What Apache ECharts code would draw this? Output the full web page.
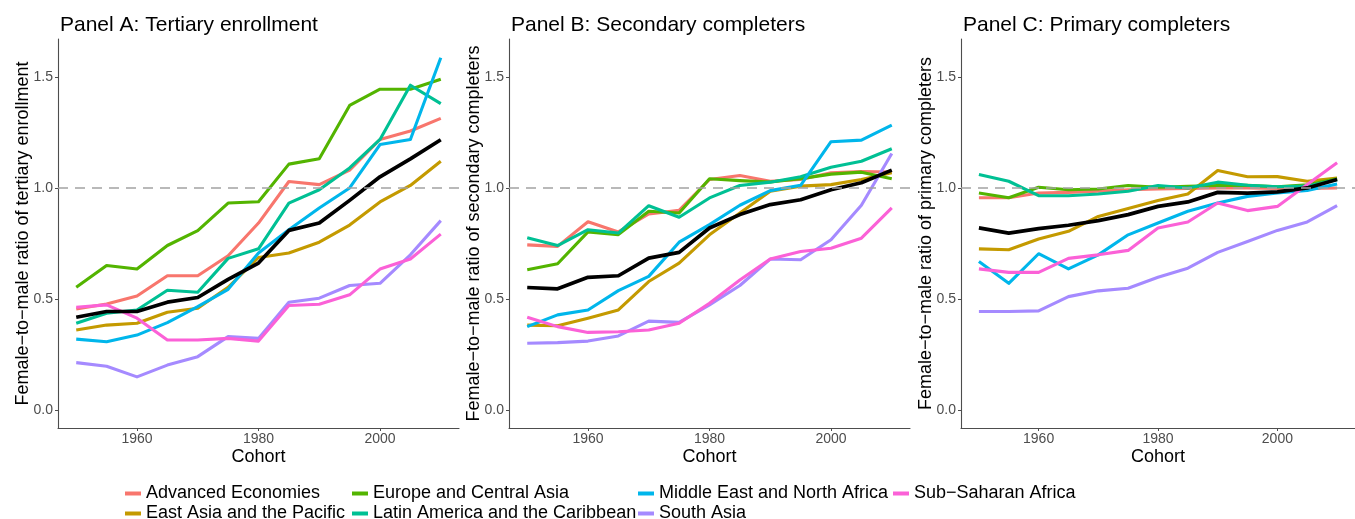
<!DOCTYPE html>
<html>
<head>
<meta charset="utf-8">
<script src="https://cdn.jsdelivr.net/npm/echarts@6/dist/echarts.min.js"></script>
<style>
html,body{margin:0;padding:0;background:#fff;}
#c{width:1355px;height:519px;}
</style>
</head>
<body>
<div id="c"></div>
<script>
// ---- data ----
const cohorts = [1950,1955,1960,1965,1970,1975,1980,1985,1990,1995,2000,2005,2010];
const regionNames = ["Advanced Economies","East Asia and the Pacific","Europe and Central Asia","Latin America and the Caribbean","Middle East and North Africa","South Asia","Sub\u2212Saharan Africa"];
const regionColors = ["#F8766D","#C49A00","#53B400","#00C094","#00B6EB","#A58AFF","#FB61D7"];
const panelTitles = ["Panel A: Tertiary enrollment","Panel B: Secondary completers","Panel C: Primary completers"];
const yAxisTitles = ["Female\u2212to\u2212male ratio of tertiary enrollment","Female\u2212to\u2212male ratio of secondary completers","Female\u2212to\u2212male ratio of primary completers"];
const xTickValues = [1960,1980,2000];
const yTickValues = [0,0.5,1,1.5];
const yTickLabels = ["0.0","0.5","1.0","1.5"];
const referenceLevel = 1;

// Panel A: tertiary enrollment
const tertiaryAE   = [0.455,0.478,0.514,0.605,0.605,0.695,0.842,1.029,1.015,1.080,1.218,1.256,1.313];
const tertiaryEAP  = [0.361,0.383,0.391,0.441,0.459,0.553,0.687,0.707,0.756,0.833,0.937,1.011,1.120];
const tertiaryECA  = [0.553,0.651,0.635,0.741,0.808,0.932,0.938,1.107,1.131,1.371,1.444,1.444,1.489];
const tertiaryLAC  = [0.391,0.436,0.451,0.540,0.531,0.683,0.726,0.932,0.992,1.090,1.218,1.462,1.379];
const tertiaryMENA = [0.320,0.308,0.338,0.394,0.466,0.544,0.707,0.812,0.910,1.000,1.195,1.218,1.586];
const tertiarySA   = [0.214,0.198,0.150,0.203,0.241,0.331,0.323,0.486,0.504,0.561,0.571,0.699,0.853];
const tertiarySSA  = [0.463,0.474,0.414,0.316,0.316,0.323,0.311,0.471,0.477,0.519,0.635,0.680,0.792];
const tertiaryAll  = [0.418,0.444,0.444,0.486,0.507,0.589,0.662,0.809,0.842,0.944,1.050,1.131,1.217];

// Panel B: secondary completers
const secondaryAE   = [0.744,0.737,0.848,0.802,0.883,0.899,1.038,1.056,1.030,1.038,1.068,1.074,1.072];
const secondaryEAP  = [0.383,0.380,0.414,0.451,0.579,0.662,0.789,0.887,0.985,1.008,1.015,1.038,1.068];
const secondaryECA  = [0.632,0.659,0.802,0.790,0.895,0.887,1.041,1.033,1.027,1.042,1.062,1.071,1.041];
const secondaryLAC  = [0.776,0.741,0.812,0.797,0.920,0.868,0.955,1.011,1.026,1.050,1.093,1.120,1.176];
const secondaryMENA = [0.376,0.429,0.451,0.538,0.602,0.756,0.835,0.922,0.988,1.012,1.208,1.215,1.283];
const secondarySA   = [0.301,0.304,0.311,0.334,0.401,0.395,0.474,0.561,0.680,0.677,0.767,0.922,1.155];
const secondarySSA  = [0.418,0.376,0.350,0.353,0.361,0.391,0.481,0.586,0.680,0.714,0.729,0.774,0.910];
const secondaryAll  = [0.552,0.546,0.598,0.605,0.684,0.710,0.820,0.880,0.925,0.947,0.992,1.023,1.080];

// Panel C: primary completers
const primaryAE   = [0.956,0.956,0.977,0.980,0.985,0.992,0.995,0.998,1.000,1.000,0.998,0.998,1.000];
const primaryEAP  = [0.726,0.722,0.770,0.805,0.872,0.907,0.943,0.973,1.078,1.050,1.051,1.030,1.045];
const primaryECA  = [0.977,0.956,1.003,0.992,0.995,1.011,1.003,1.007,1.011,1.012,1.005,1.014,1.041];
const primaryLAC  = [1.060,1.030,0.965,0.965,0.973,0.985,1.011,1.000,1.026,1.012,1.005,1.008,1.038];
const primaryMENA = [0.669,0.571,0.704,0.636,0.699,0.789,0.842,0.895,0.932,0.962,0.977,0.989,1.018];
const primarySA   = [0.444,0.444,0.447,0.511,0.537,0.549,0.598,0.639,0.710,0.759,0.809,0.847,0.920];
const primarySSA  = [0.636,0.620,0.620,0.683,0.699,0.719,0.820,0.847,0.932,0.898,0.917,1.015,1.113];
const primaryAll  = [0.820,0.797,0.817,0.832,0.853,0.880,0.917,0.937,0.980,0.977,0.982,1.000,1.038];

const panelRegionData = [
  [tertiaryAE,tertiaryEAP,tertiaryECA,tertiaryLAC,tertiaryMENA,tertiarySA,tertiarySSA],
  [secondaryAE,secondaryEAP,secondaryECA,secondaryLAC,secondaryMENA,secondarySA,secondarySSA],
  [primaryAE,primaryEAP,primaryECA,primaryLAC,primaryMENA,primarySA,primarySSA]
];
const panelOverall = [tertiaryAll, secondaryAll, primaryAll];

// ---- chart ----
const FONT = "Liberation Sans, Arial, Helvetica, sans-serif";
const gridLefts = [58, 509, 961];
const gridWidth = 401;
const gridTop = 39;
const gridHeight = 389;

const grids = [], xAxes = [], yAxes = [], titles = [], series = [];
for (let p = 0; p < 3; p++) {
  grids.push({left: gridLefts[p], top: gridTop, width: gridWidth, height: gridHeight, containLabel: false});
  titles.push({
    text: panelTitles[p], left: gridLefts[p] - 3, top: 10,
    textStyle: {fontFamily: FONT, fontSize: 21, fontWeight: 'normal', color: '#000'}
  });
  xAxes.push({
    type: 'value', gridIndex: p, min: 1947, max: 2013,
    name: 'Cohort', nameLocation: 'middle', nameGap: 20, nameMoveOverlap: false,
    nameTextStyle: {fontFamily: FONT, fontSize: 18, color: '#000', verticalAlign: 'top'},
    axisLine: {show: true, onZero: false, lineStyle: {color: '#4d4d4d', width: 1.1}},
    axisTick: {show: true, length: 3, customValues: xTickValues, lineStyle: {color: '#4d4d4d', width: 1}},
    axisLabel: {customValues: xTickValues, fontFamily: FONT, fontSize: 14, color: '#4d4d4d', margin: 4,
      formatter: v => String(v)},
    splitLine: {show: false}
  });
  yAxes.push({
    type: 'value', gridIndex: p, min: -0.08, max: 1.67,
    name: yAxisTitles[p], nameLocation: 'middle', nameGap: 26, nameRotate: 90, nameMoveOverlap: false,
    nameTextStyle: {fontFamily: FONT, fontSize: 18, color: '#000'},
    axisLine: {show: true, onZero: false, lineStyle: {color: '#4d4d4d', width: 1.1}},
    axisTick: {show: true, length: 3, customValues: yTickValues, lineStyle: {color: '#4d4d4d', width: 1}},
    axisLabel: {customValues: yTickValues, fontFamily: FONT, fontSize: 14, color: '#4d4d4d', margin: 5,
      formatter: v => yTickLabels[yTickValues.findIndex(t => Math.abs(t - v) < 1e-9)] ?? ''},
    splitLine: {show: false}
  });
  // dashed reference line at 1
  series.push({
    type: 'line', xAxisIndex: p, yAxisIndex: p, data: [], z: 1, silent: true,
    markLine: {
      silent: true, symbol: ['none','none'], label: {show: false}, animation: false,
      lineStyle: {type: [10,7], color: '#a3a3a3', width: 1.5},
      data: [{yAxis: referenceLevel}]
    }
  });
  for (let r = 0; r < regionNames.length; r++) {
    series.push({
      name: regionNames[r], type: 'line', xAxisIndex: p, yAxisIndex: p,
      data: cohorts.map((c, i) => [c, panelRegionData[p][r][i]]),
      showSymbol: false, symbol: 'none', z: 2 + r * 0.01,
      color: regionColors[r],
      lineStyle: {width: 3.1, color: regionColors[r], cap: 'butt', join: 'round'},
      emphasis: {disabled: true}
    });
  }
  series.push({
    name: 'All', type: 'line', xAxisIndex: p, yAxisIndex: p,
    data: cohorts.map((c, i) => [c, panelOverall[p][i]]),
    showSymbol: false, symbol: 'none', z: 3, color: '#000',
    lineStyle: {width: 3.7, color: '#000', cap: 'butt', join: 'round'},
    emphasis: {disabled: true}
  });
}

// legend: 4 columns x 2 rows (filled by row)
const legendColLefts = [125, 352, 638, 893];
const legendRowTops = [484, 504];
const legendOrder = [0, 2, 4, 6, 1, 3, 5];
const legends = legendOrder.map((r, k) => ({
  orient: 'horizontal', left: legendColLefts[k % 4], top: legendRowTops[Math.floor(k / 4)],
  itemWidth: 16, itemHeight: 4, icon: 'rect', selectedMode: false, padding: 0,
  data: [regionNames[r]],
  textStyle: {fontFamily: FONT, fontSize: 18, color: '#000', lineHeight: 19}
}));

const chart = echarts.init(document.getElementById('c'), null, {renderer: 'canvas'});
chart.setOption({
  animation: false,
  backgroundColor: '#fff',
  title: titles,
  grid: grids,
  xAxis: xAxes,
  yAxis: yAxes,
  legend: legends,
  series: series
});
</script>
</body>
</html>
